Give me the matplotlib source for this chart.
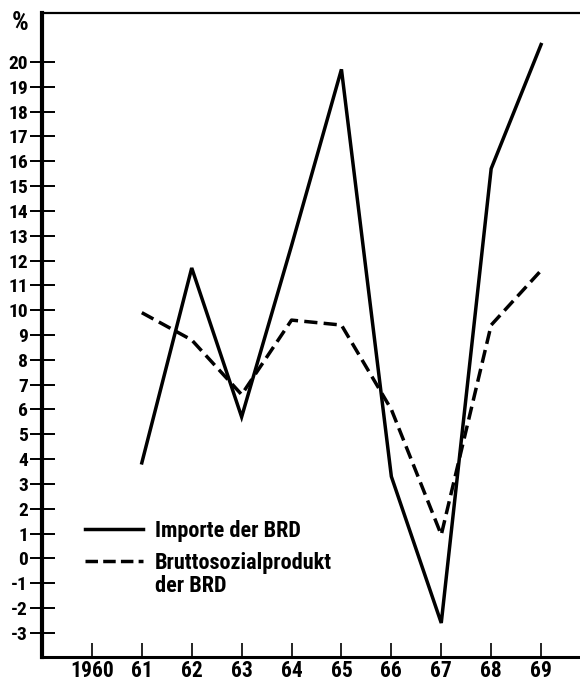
import matplotlib
matplotlib.use("Agg")
import matplotlib.pyplot as plt
from matplotlib.lines import Line2D
from matplotlib import font_manager

# Veraenderung gegenueber Vorjahr in %
years = [1961, 1962, 1963, 1964, 1965, 1966, 1967, 1968, 1969]
importe = [3.85, 11.7, 5.7, 12.6, 19.7, 3.3, -2.6, 15.7, 20.7]
bsp = [9.9, 8.8, 6.6, 9.6, 9.4, 6.0, 0.95, 9.4, 11.6]

xticks = [1960, 1961, 1962, 1963, 1964, 1965, 1966, 1967, 1968, 1969]
xlabels = ["1960", "61", "62", "63", "64", "65", "66", "67", "68", "69"]
yticks = list(range(-3, 21))

# schmale, fette Schrift wenn vorhanden
names = {f.name for f in font_manager.fontManager.ttflist}
fams = [n for n in ['Liberation Sans Narrow', 'Roboto Condensed', 'DejaVu Sans Condensed']
        if n in names] + ['DejaVu Sans']
plt.rcParams['font.family'] = fams
plt.rcParams['font.weight'] = 'bold'

fig = plt.figure(figsize=(5.8, 6.84), dpi=100)
ax = fig.add_axes([42/580, 1-657/684, 1-42/580, (657-13)/684])

ax.plot(years, importe, color='black', lw=2.5, solid_joinstyle='miter')
ax.plot(years, bsp, color='black', lw=2.5, dashes=(3.8, 1.8))

ax.set_xlim(1959.0, 1969.78)
ax.set_ylim(-3.97, 21.97)

ax.set_xticks(xticks)
ax.set_xticklabels(xlabels, fontsize=15.5, fontweight='bold')
ax.set_yticks(yticks)
ax.set_yticklabels([str(v) for v in yticks], fontsize=14, fontweight='bold')

ax.tick_params(axis='y', direction='inout', length=18, width=1.4, pad=1)
ax.tick_params(axis='x', direction='in', length=10, width=1.2, pad=2.5)

ax.spines['right'].set_visible(False)
ax.spines['left'].set_linewidth(3)
ax.spines['bottom'].set_linewidth(2.2)
ax.spines['top'].set_linewidth(1.6)

fig.text(20/580, 1-23/684, "%", fontsize=19, fontweight='bold', ha='center', va='center')

handles = [Line2D([], [], color='black', lw=2.5),
           Line2D([], [], color='black', lw=2.5, dashes=(3.6, 1.5))]
leg = ax.legend(handles, ["Importe der BRD", "Bruttosozialprodukt"],
                loc='upper left', bbox_to_anchor=(85/580, 1-520/684),
                bbox_transform=fig.transFigure, frameon=False,
                prop={'size': 16, 'weight': 'bold'},
                handlelength=2.6, handletextpad=0.55, labelspacing=0.45,
                borderpad=0, borderaxespad=0)

# zweite Zeile unter "Bruttosozialprodukt"
fig.canvas.draw()
bb = leg.get_texts()[1].get_window_extent()
fig.text(bb.x0 / fig.bbox.width, (bb.y0 - 1) / fig.bbox.height, "der BRD",
         fontsize=16, fontweight='bold', ha='left', va='top')

fig.savefig("out.png", dpi=100)
